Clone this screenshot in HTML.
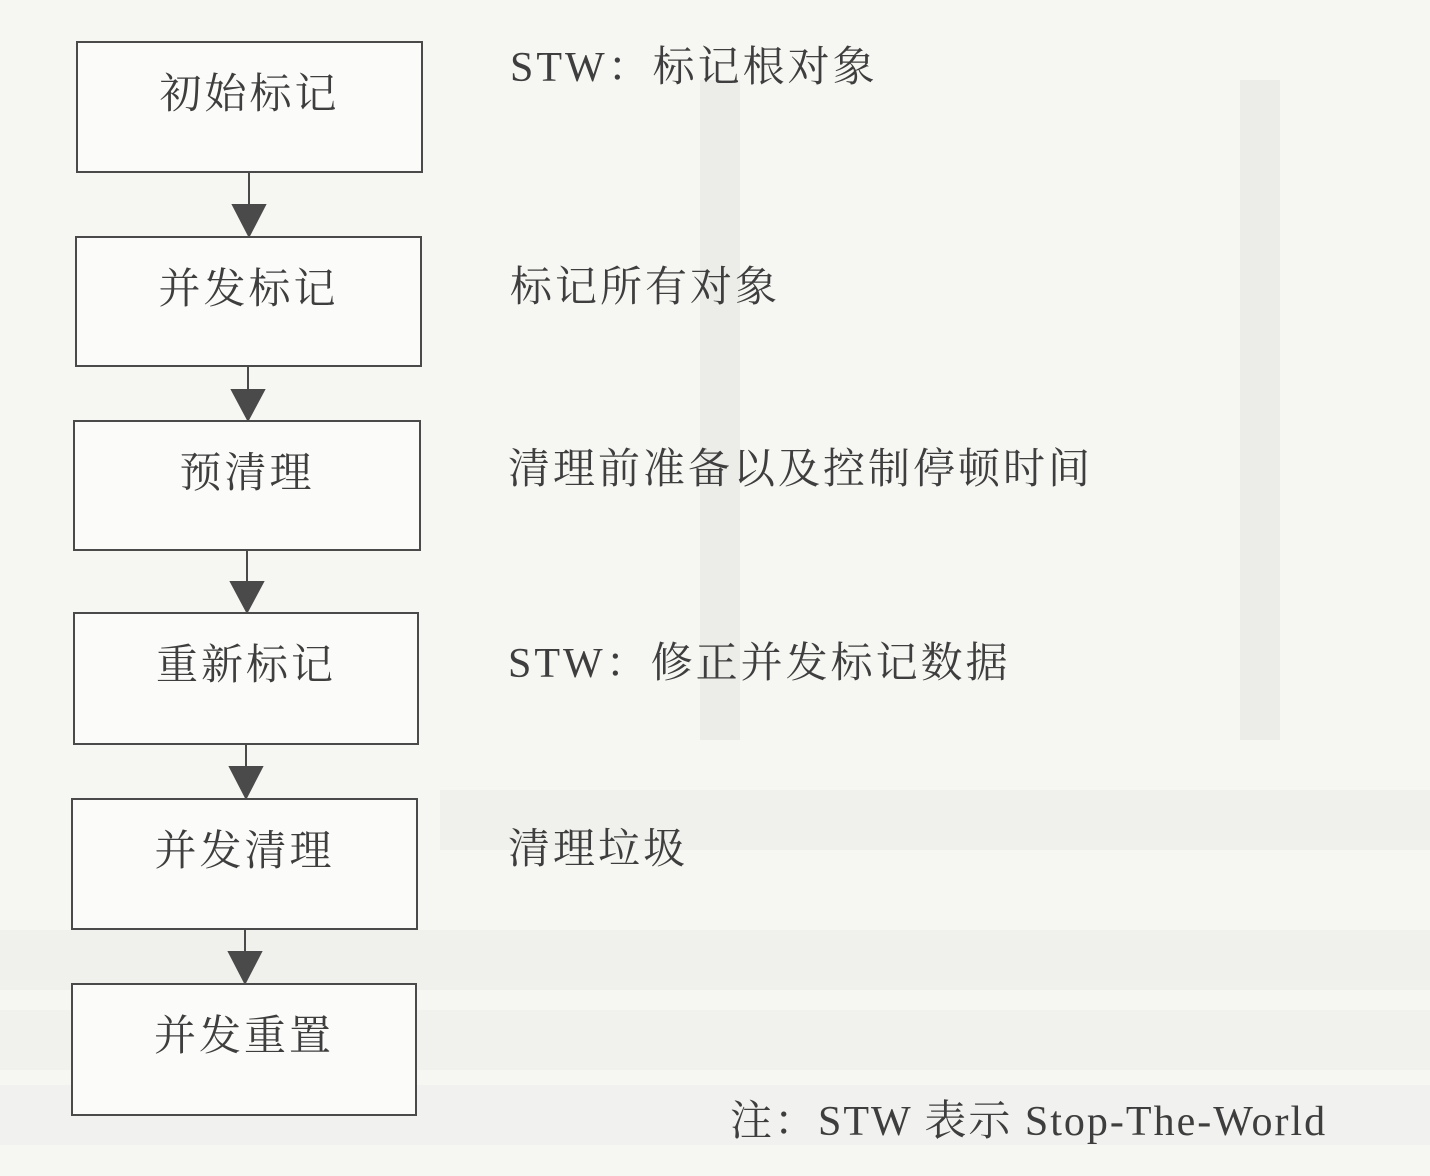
<!DOCTYPE html>
<html><head><meta charset="utf-8"><style>
body{margin:0;width:1430px;height:1176px;background:#f6f6f3;position:relative;overflow:hidden;font-family:"Liberation Serif","Noto Serif CJK SC",serif;color:#3e3e3e}
.bg{position:absolute;background:#ecece8}
.box{position:absolute;border:2px solid #4a4a4a;background:#fbfbf9;box-sizing:border-box;text-align:center;font-size:42px;padding-top:18px;letter-spacing:3px}
.lbl{position:absolute;font-size:42px;white-space:nowrap;letter-spacing:3px}
</style></head><body>
<div class="bg" style="left:700px;top:80px;width:40px;height:660px"></div>
<div class="bg" style="left:1240px;top:80px;width:40px;height:660px"></div>
<div class="bg" style="left:440px;top:790px;width:990px;height:60px;opacity:.6"></div>
<div class="bg" style="left:0;top:930px;width:1430px;height:60px;opacity:.6"></div>
<div class="bg" style="left:0;top:1010px;width:1430px;height:60px;opacity:.5"></div>
<div class="bg" style="left:0;top:1085px;width:1430px;height:60px;opacity:.4"></div>
<svg style="position:absolute;left:0;top:0" width="1430" height="1176">
<g stroke="#4a4a4a" stroke-width="2" fill="#4a4a4a">
<line x1="249" y1="172" x2="249" y2="205"/><polygon points="233,205 265,205 249,236"/>
<line x1="248" y1="366" x2="248" y2="390"/><polygon points="232,390 264,390 248,420"/>
<line x1="247" y1="550" x2="247" y2="582"/><polygon points="231,582 263,582 247,612"/>
<line x1="246" y1="744" x2="246" y2="767"/><polygon points="230,767 262,767 246,798"/>
<line x1="245" y1="929" x2="245" y2="952"/><polygon points="229,952 261,952 245,983"/>
</g></svg>
<div class="box" style="left:76px;top:41px;width:347px;height:132px">初始标记</div>
<div class="box" style="left:75px;top:236px;width:347px;height:131px">并发标记</div>
<div class="box" style="left:73px;top:420px;width:348px;height:131px">预清理</div>
<div class="box" style="left:73px;top:612px;width:346px;height:133px">重新标记</div>
<div class="box" style="left:71px;top:798px;width:347px;height:132px">并发清理</div>
<div class="box" style="left:71px;top:983px;width:346px;height:133px">并发重置</div>
<div class="lbl" style="left:510px;top:34px">STW：标记根对象</div>
<div class="lbl" style="left:510px;top:254px">标记所有对象</div>
<div class="lbl" style="left:508px;top:436px">清理前准备以及控制停顿时间</div>
<div class="lbl" style="left:508px;top:630px">STW：修正并发标记数据</div>
<div class="lbl" style="left:508px;top:816px">清理垃圾</div>
<div class="lbl" style="left:730px;top:1088px;letter-spacing:2px">注：STW 表示 Stop-The-World</div>
</body></html>
